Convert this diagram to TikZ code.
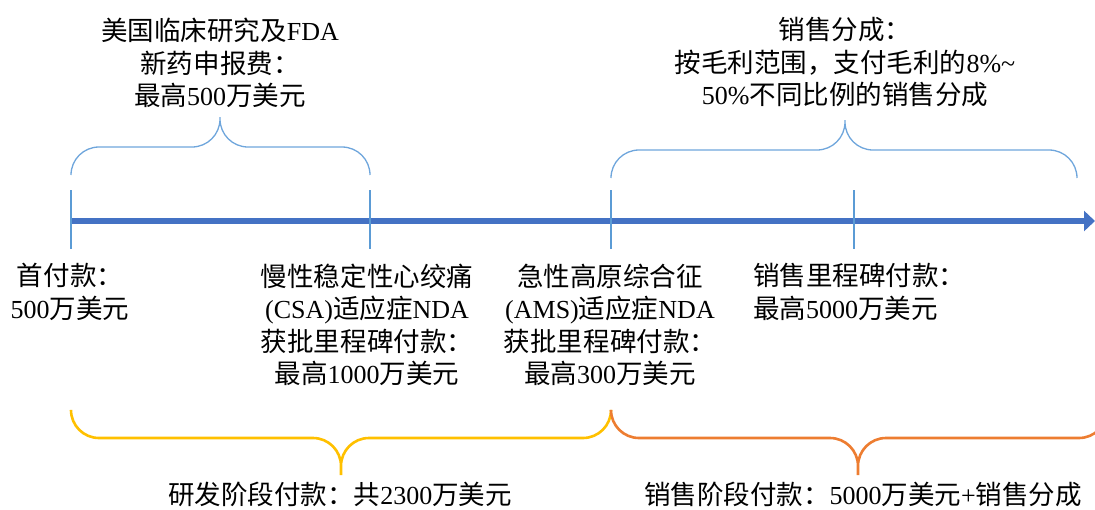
\documentclass[tikz,border=0pt]{standalone}
\usepackage{fontspec}
\setmainfont{Liberation Serif}
\newfontfamily\cjk{Noto Sans CJK SC}[Scale=1.02]
\newcommand\zh[1]{{\cjk #1}}
\usetikzlibrary{arrows.meta}
\definecolor{axisblue}{HTML}{4472C4}
\definecolor{tickblue}{HTML}{5B9BD5}
\definecolor{braceblue}{HTML}{6FA6DC}
\definecolor{braceyellow}{HTML}{FFC000}
\definecolor{braceorange}{HTML}{ED7D31}
\begin{document}
\begin{tikzpicture}[x=1pt,y=-1pt,
  mainaxis/.style={draw=axisblue,line width=6pt,-{Triangle[length=11pt,width=20pt]}},
  tickmark/.style={draw=tickblue,line width=2.4pt},
  bluebrace/.style={draw=braceblue,line width=1.3pt,rounded corners=28pt},
  yellowbrace/.style={draw=braceyellow,line width=2.6pt,rounded corners=28pt},
  orangebrace/.style={draw=braceorange,line width=2.6pt,rounded corners=28pt},
  txt/.style={align=center,inner sep=0pt,font=\fontsize{26}{32.5}\selectfont}]
\clip (0,0) rectangle (1095,509);
% axis
\coordinate (a0) at (71,221);
\coordinate (aend) at (1095,221);
\coordinate (t1) at (71,221);
\coordinate (t2) at (370,221);
\coordinate (t3) at (611,221);
\coordinate (t4) at (854,221);
\draw[mainaxis] (a0) -- (aend);
\foreach \t in {t1,t2,t3,t4}{
  \draw[tickmark] (\t) ++(0,-31) -- ++(0,59);
}
% top braces
\draw[bluebrace] (71,175) -- (71,147) -- (220,147) -- (220,117)
                 (370,175) -- (370,147) -- (220,147) -- (220,117);
\draw[bluebrace] (611,178) -- (611,150) -- (845,150) -- (845,120)
                 (1077,178) -- (1077,150) -- (845,150) -- (845,120);
% bottom braces
\draw[yellowbrace] (71,411) -- (71,438) -- (341,438) -- (341,475)
                   (611,411) -- (611,438) -- (341,438) -- (341,475);
\draw[orangebrace] (611,411) -- (611,438) -- (858,438) -- (858,475)
                   (1107,411) -- (1107,438) -- (858,438) -- (858,475);
% texts
\node[txt] (top1) at (220,63) {\zh{美国临床研究及}FDA\\\zh{新药申报费：}\\\zh{最高}500\zh{万美元}};
\node[txt] (top2) at (845,62) {\zh{销售分成：}\\\zh{按毛利范围，支付毛利的}8\%\textasciitilde\\50\%\zh{不同比例的销售分成}};
\node[txt] (lab1) at (70,292) {\zh{首付款：}\\500\zh{万美元}};
\node[txt] (lab2) at (367,325) {\zh{慢性稳定性心绞痛}\\(CSA)\zh{适应症}NDA\\\zh{获批里程碑付款：}\\\zh{最高}1000\zh{万美元}};
\node[txt] (lab3) at (610,325) {\zh{急性高原综合征}\\(AMS)\zh{适应症}NDA\\\zh{获批里程碑付款：}\\\zh{最高}300\zh{万美元}};
\node[txt,align=left,anchor=west] (lab4) at (753,292) {\zh{销售里程碑付款：}\\\zh{最高}5000\zh{万美元}};
\node[txt] (bot1) at (340,494) {\zh{研发阶段付款：共}2300\zh{万美元}};
\node[txt] (bot2) at (863,494) {\zh{销售阶段付款：}5000\zh{万美元}+\zh{销售分成}};
\end{tikzpicture}
\end{document}
